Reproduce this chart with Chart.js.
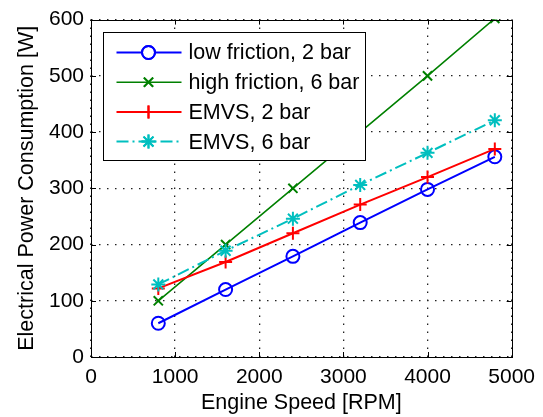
<!DOCTYPE html>
<html>
<head>
<meta charset="utf-8">
<script src="https://cdn.jsdelivr.net/npm/chart.js@4.4.0/dist/chart.umd.min.js"></script>
<style>
  html, body { margin: 0; padding: 0; background: #fff; }
  canvas { display: block; }
</style>
</head>
<body>
<canvas id="powerChart" width="543" height="417"></canvas>
<script>
// values
const engineSpeed = [800, 1600, 2400, 3200, 4000, 4800];
const lowFriction2 = [60, 120, 179, 239, 298, 356];
const highFriction6 = [100, 200, 300, 400, 500, 602];
const emvs2 = [122, 169, 220, 271, 320, 370];
const emvs6 = [129, 189, 246, 306, 363, 421];
const xTicks = [0, 1000, 2000, 3000, 4000, 5000];
const yTicks = [0, 100, 200, 300, 400, 500, 600];
const seriesLabels = ['low friction, 2 bar', 'high friction, 6 bar', 'EMVS, 2 bar', 'EMVS, 6 bar'];

const FONT = 'Liberation Sans, Arial, Helvetica, sans-serif';

function toPoints(values) {
    return engineSpeed.map((x, i) => ({ x: x, y: values[i] }));
}

function makeSeries(label, values, color, style, radius, width, dash, order) {
    return {
        label: label,
        data: toPoints(values),
        borderColor: color,
        backgroundColor: 'transparent',
        borderWidth: width,
        borderDash: dash,
        pointStyle: style,
        pointRadius: radius,
        pointBorderWidth: 2,
        pointBorderColor: color,
        pointBackgroundColor: 'transparent',
        tension: 0,
        clip: 0,
        order: order
    };
}

const datasets = [
    makeSeries(seriesLabels[0], lowFriction2, '#0000ff', 'circle', 6.5, 2, [], 4),
    makeSeries(seriesLabels[1], highFriction6, '#008000', 'crossRot', 6.5, 1.6, [], 3),
    makeSeries(seriesLabels[2], emvs2, '#ff0000', 'cross', 6.5, 2, [], 2),
    makeSeries(seriesLabels[3], emvs6, '#00bfbf', 'star', 7, 2, [12, 4, 2, 4], 1)
];

// solid frame with inward tick marks on all four sides
const framePlugin = {
    id: 'frame',
    afterDatasetsDraw(chart) {
        const { ctx, chartArea: a, scales } = chart;
        const len = 5;
        ctx.save();
        ctx.strokeStyle = '#000';
        ctx.lineWidth = 1;
        ctx.setLineDash([]);
        ctx.beginPath();
        xTicks.forEach(v => {
            const px = Math.round(scales.x.getPixelForValue(v)) + 0.5;
            ctx.moveTo(px, a.bottom); ctx.lineTo(px, a.bottom - len);
            ctx.moveTo(px, a.top); ctx.lineTo(px, a.top + len);
        });
        yTicks.forEach(v => {
            const py = Math.round(scales.y.getPixelForValue(v)) + 0.5;
            ctx.moveTo(a.left, py); ctx.lineTo(a.left + len, py);
            ctx.moveTo(a.right, py); ctx.lineTo(a.right - len, py);
        });
        ctx.stroke();
        ctx.strokeRect(Math.round(a.left) + 0.5, Math.round(a.top) + 0.5,
            Math.round(a.right - a.left), Math.round(a.bottom - a.top));
        ctx.restore();
    }
};

// MATLAB style boxed legend in the upper left corner
const boxLegend = {
    id: 'boxLegend',
    afterDatasetsDraw(chart) {
        const { ctx, chartArea: a } = chart;
        const x0 = Math.round(a.left) + 12.5, y0 = Math.round(a.top) + 12.5;
        const w = 262, h = 128, rowH = 29.7;
        ctx.save();
        ctx.fillStyle = '#fff';
        ctx.fillRect(x0, y0, w, h);
        ctx.strokeStyle = '#000';
        ctx.lineWidth = 1;
        ctx.strokeRect(x0, y0, w, h);
        ctx.font = '21.5px ' + FONT;
        ctx.textBaseline = 'middle';
        chart.data.datasets.forEach((ds, i) => {
            const cy = y0 + 20 + i * rowH;
            ctx.strokeStyle = ds.borderColor;
            ctx.lineWidth = ds.borderWidth;
            ctx.setLineDash(ds.borderDash || []);
            ctx.beginPath();
            ctx.moveTo(x0 + 13, cy);
            ctx.lineTo(x0 + 78, cy);
            ctx.stroke();
            ctx.setLineDash([]);
            Chart.helpers.drawPoint(ctx, {
                pointStyle: ds.pointStyle,
                radius: ds.pointRadius,
                borderWidth: ds.pointBorderWidth,
                rotation: 0
            }, x0 + 45, cy);
            ctx.strokeStyle = ds.borderColor;
            ctx.lineWidth = ds.pointBorderWidth;
            ctx.stroke();
            ctx.fillStyle = '#000';
            ctx.fillText(ds.label, x0 + 85, cy + 1);
        });
        ctx.restore();
    }
};

new Chart(document.getElementById('powerChart'), {
    type: 'line',
    data: { datasets: datasets },
    options: {
        responsive: false,
        devicePixelRatio: 1,
        animation: false,
        layout: { padding: { left: 0, right: 30, top: 15, bottom: 0 } },
        plugins: {
            legend: { display: false },
            tooltip: { enabled: false }
        },
        scales: {
            x: {
                type: 'linear',
                min: 0,
                max: 5000,
                afterBuildTicks: s => { s.ticks = xTicks.map(v => ({ value: v })); },
                afterFit: s => { s.height = 60; },
                grid: { color: '#222', lineWidth: 1.3, drawTicks: false },
                border: { display: false, dash: [1.5, 6.5] },
                ticks: {
                    color: '#000', padding: 8, maxRotation: 0,
                    font: { family: FONT, size: 21 },
                    callback: v => String(v)
                },
                title: {
                    display: true,
                    text: 'Engine Speed [RPM]',
                    color: '#000',
                    padding: 1,
                    font: { family: FONT, size: 21.5 }
                }
            },
            y: {
                type: 'linear',
                min: 0,
                max: 600,
                afterBuildTicks: s => { s.ticks = yTicks.map(v => ({ value: v })); },
                afterFit: s => { s.width = 91; },
                grid: { color: '#222', lineWidth: 1.3, drawTicks: false },
                border: { display: false, dash: [1.5, 6.5] },
                ticks: {
                    color: '#000', padding: 7,
                    font: { family: FONT, size: 21 },
                    callback: v => String(v)
                },
                title: {
                    display: true,
                    text: 'Electrical Power Consumption [W]',
                    color: '#000',
                    padding: { top: 14, bottom: 0 },
                    font: { family: FONT, size: 21.5 }
                }
            }
        }
    },
    plugins: [framePlugin, boxLegend]
});
</script>
</body>
</html>
